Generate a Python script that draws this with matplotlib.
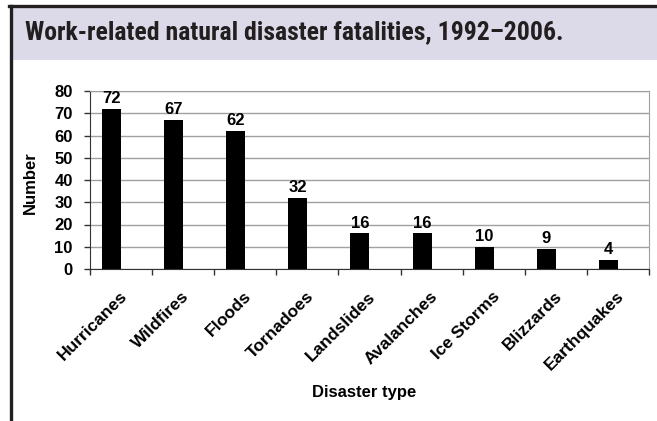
#!/usr/bin/env python

import matplotlib
matplotlib.use('Agg')
import matplotlib.pyplot as plt
import matplotlib.transforms as mtransforms
from matplotlib.patches import Rectangle
from matplotlib.lines import Line2D

# data
disasters = ['Hurricanes', 'Wildfires', 'Floods', 'Tornadoes', 'Landslides',
             'Avalanches', 'Ice Storms', 'Blizzards', 'Earthquakes']
fatalities = [72, 67, 62, 32, 16, 16, 10, 9, 4]
yticks = [0, 10, 20, 30, 40, 50, 60, 70, 80]
title = 'Work-related natural disaster fatalities, 1992\u20132006.'

matplotlib.rcParams['font.family'] = ['Liberation Sans', 'DejaVu Sans']
matplotlib.rcParams['font.weight'] = 'bold'


def main():
    fig = plt.figure(figsize=(6.57, 4.21), dpi=100)
    W, H = 657., 421.

    # outer frame and title banner
    fig.patches.append(Rectangle((12/W, 1-60/H), 1-12/W, 53/H, transform=fig.transFigure,
                                 facecolor='#dcdae8', edgecolor='none', zorder=0))
    fig.lines.append(Line2D([9/W, 1], [1-5.5/H, 1-5.5/H], transform=fig.transFigure,
                            color='#231f20', lw=2.4))
    fig.lines.append(Line2D([10.5/W, 10.5/W], [0, 1-5.5/H], transform=fig.transFigure,
                            color='#231f20', lw=2.4))
    fig.text(25/W, 1-39.5/H, title, fontsize=18.5, fontweight='bold', color='#231f20',
             family=['Roboto Condensed', 'Liberation Sans'], va='baseline', ha='left')

    ax = fig.add_axes([90/W, 1-269/H, 559/W, 178/H])
    n = len(disasters)
    xpos = [i + 0.347 for i in range(n)]
    ax.bar(xpos, fatalities, width=0.306, color='black', zorder=3)
    for x, v in zip(xpos, fatalities):
        ax.annotate(str(v), (x, v), xytext=(0, 2), textcoords='offset points',
                    ha='center', va='bottom', fontsize=12, fontweight='bold')

    ax.set_xlim(0, n)
    ax.set_ylim(0, 80)
    ax.set_yticks(yticks)
    ax.set_yticklabels([str(t) for t in yticks], fontsize=12, fontweight='bold')
    ax.set_xticks(range(n + 1))
    ax.set_xticklabels([])
    ax.tick_params(axis='both', direction='out', length=4.5, width=1, color='#333333')
    ax.tick_params(axis='y', pad=8)
    ax.grid(axis='y', color='#a0a0a0', lw=1, zorder=0)
    ax.set_axisbelow(True)
    for s in ['top', 'right']:
        ax.spines[s].set_color('#a0a0a0')
    for s in ['left', 'bottom']:
        ax.spines[s].set_color('#333333')

    lab_tr = mtransforms.offset_copy(ax.get_xaxis_transform(), fig=fig, x=4, y=-25, units='dots')
    for i, name in enumerate(disasters):
        ax.text(i + 0.5, 0, name, transform=lab_tr, rotation=45, rotation_mode='anchor',
                ha='right', va='center', fontsize=12.5, fontweight='bold')

    fig.text(364/W, 1-393/H, 'Disaster type', ha='center', va='center',
             fontsize=12, fontweight='bold')
    fig.text(30/W, 1-183/H, 'Number', ha='center', va='center', rotation=90,
             fontsize=12, fontweight='bold')

    fig.savefig('out.png', dpi=100)


if __name__ == "__main__":
    main()
